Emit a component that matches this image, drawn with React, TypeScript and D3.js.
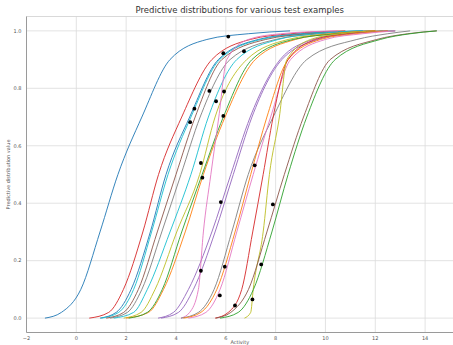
import { useMemo } from "react";
import * as d3 from "d3";

const levels = [0, 0.02, 0.1, 0.3, 0.5, 0.7, 0.9, 0.97, 0.99, 1.0];

const curveColors = [
  "#1f77b4", "#d62728", "#1f77b4", "#17becf", "#8c564b",
  "#7f7f7f", "#17becf", "#bcbd22", "#ff7f0e", "#2ca02c",
  "#9467bd", "#9467bd", "#e377c2", "#7f7f7f", "#ff7f0e",
  "#e377c2", "#d62728", "#bcbd22", "#8c564b", "#2ca02c",
];

const curveValues = [
  [-1.26, -0.6, 0.18, 0.95, 1.67, 2.63, 3.76, 5.24, 6.9, 8.58],
  [0.52, 1.3, 1.89, 2.67, 3.3, 4.23, 5.44, 6.98, 8.6, 10.8],
  [0.95, 1.6, 2.2, 2.97, 3.6, 4.55, 5.7, 7.3, 9.0, 11.5],
  [1.0, 1.7, 2.3, 3.02, 3.68, 4.6, 5.75, 7.4, 9.2, 11.8],
  [1.2, 1.9, 2.49, 3.25, 4.0, 4.77, 5.84, 7.6, 9.4, 12.0],
  [1.35, 2.05, 2.63, 3.43, 4.2, 4.97, 6.17, 8.0, 9.8, 12.3],
  [1.5, 2.3, 2.85, 3.76, 4.6, 5.3, 6.44, 8.1, 9.6, 11.5],
  [1.9, 2.6, 3.16, 4.03, 4.95, 5.57, 6.84, 8.5, 10.2, 12.5],
  [2.0, 2.9, 3.5, 4.37, 5.1, 5.97, 7.18, 8.8, 10.3, 12.0],
  [2.1, 2.85, 3.45, 4.23, 5.05, 5.9, 7.05, 8.7, 10.5, 12.8],
  [3.28, 3.9, 4.5, 5.44, 6.2, 6.98, 8.18, 9.5, 10.8, 12.5],
  [3.4, 4.1, 4.7, 5.57, 6.3, 7.05, 8.25, 9.7, 11.0, 12.8],
  [4.2, 4.55, 4.9, 5.1, 5.4, 5.72, 6.04, 6.9, 8.2, 10.5],
  [4.2, 4.9, 5.53, 6.24, 6.9, 7.9, 9.25, 11.26, 12.5, 13.4],
  [4.3, 5.0, 5.64, 6.37, 7.0, 7.65, 8.5, 9.8, 11.2, 12.5],
  [4.5, 5.2, 5.77, 6.44, 7.1, 7.8, 8.6, 10.0, 11.5, 12.8],
  [5.57, 6.1, 6.64, 7.08, 7.5, 7.9, 8.5, 9.6, 10.8, 12.0],
  [6.75, 7.0, 7.1, 7.5, 7.75, 8.15, 8.45, 9.4, 10.6, 12.0],
  [5.6, 6.2, 6.91, 7.65, 8.35, 9.12, 10.19, 12.06, 13.3, 14.47],
  [5.77, 6.5, 7.11, 7.85, 8.5, 9.25, 10.39, 12.2, 13.4, 14.47],
];

// true activity of each test example and its predictive value
const dotX = [6.1, 5.9, 6.73, 5.34, 5.93, 5.61, 4.74, 4.57, 5.9, 5.0, 5.06, 5.8, 5.0, 5.96, 5.76, 6.37, 7.16, 7.89, 7.42, 7.07];
const dotY = [0.98, 0.922, 0.929, 0.791, 0.789, 0.755, 0.729, 0.682, 0.704, 0.54, 0.489, 0.404, 0.165, 0.179, 0.079, 0.044, 0.532, 0.396, 0.187, 0.065];

const xTicks = [-2, 0, 2, 4, 6, 8, 10, 12, 14];
const yTicks = [0, 0.2, 0.4, 0.6, 0.8, 1.0];

const width = 453;
const height = 345;
const font = "DejaVu Sans, sans-serif";

export default function App() {
  const plot = { left: 26.5, right: 453, top: 16.5, bottom: 332.5 };

  const xScale = useMemo(
    () => d3.scaleLinear().domain([-2, 15.12]).range([plot.left, plot.right]),
    []
  );
  const yScale = useMemo(
    () => d3.scaleLinear().domain([-0.05, 1.05]).range([plot.bottom, plot.top]),
    []
  );

  const line = d3
    .line<[number, number]>()
    .x((d) => xScale(d[0]))
    .y((d) => yScale(d[1]))
    .curve(d3.curveMonotoneX);

  return (
    <svg
      width={width}
      height={height}
      style={{ position: "absolute", left: 0, top: 0, background: "#fff" }}
      fontFamily={font}
    >
      {/* grid */}
      {xTicks.map((t) => (
        <line key={`gx${t}`} x1={xScale(t)} x2={xScale(t)} y1={plot.top} y2={plot.bottom} stroke="#dcdcdc" strokeWidth={0.8} />
      ))}
      {yTicks.map((t) => (
        <line key={`gy${t}`} x1={plot.left} x2={plot.right} y1={yScale(t)} y2={yScale(t)} stroke="#dcdcdc" strokeWidth={0.8} />
      ))}

      {/* spines */}
      <line x1={plot.left} x2={plot.right} y1={plot.top} y2={plot.top} stroke="#cfcfcf" strokeWidth={0.8} />
      <line x1={plot.left} x2={plot.left} y1={plot.top} y2={plot.bottom} stroke="#9a9a9a" strokeWidth={1} />
      <line x1={plot.left} x2={plot.right} y1={plot.bottom} y2={plot.bottom} stroke="#9a9a9a" strokeWidth={1} />

      {/* curves */}
      {curveValues.map((vals, i) => (
        <path
          key={i}
          d={line(vals.map((v, j) => [v, levels[j]] as [number, number])) ?? ""}
          fill="none"
          stroke={curveColors[i]}
          strokeWidth={0.9}
        />
      ))}

      {/* true values */}
      {dotX.map((v, i) => (
        <circle key={i} cx={xScale(v)} cy={yScale(dotY[i])} r={1.9} fill="#000" />
      ))}

      {/* tick labels */}
      {xTicks.map((t) => (
        <text key={`tx${t}`} x={xScale(t)} y={plot.bottom + 7} fontSize={5} fill="#555" textAnchor="middle">
          {t < 0 ? `\u2212${-t}` : t}
        </text>
      ))}
      {yTicks.map((t) => (
        <text key={`ty${t}`} x={plot.left - 5} y={yScale(t) + 1.8} fontSize={5} fill="#555" textAnchor="end">
          {t.toFixed(1)}
        </text>
      ))}

      {/* labels */}
      <text x={(plot.left + plot.right) / 2} y={12.5} fontSize={8.5} fill="#333" textAnchor="middle">
        Predictive distributions for various test examples
      </text>
      <text x={(plot.left + plot.right) / 2} y={344} fontSize={5} fill="#555" textAnchor="middle">
        Activity
      </text>
      <text
        transform={`translate(9.5,${(plot.top + plot.bottom) / 2}) rotate(-90)`}
        fontSize={5}
        fill="#555"
        textAnchor="middle"
      >
        Predictive distribution value
      </text>
    </svg>
  );
}
